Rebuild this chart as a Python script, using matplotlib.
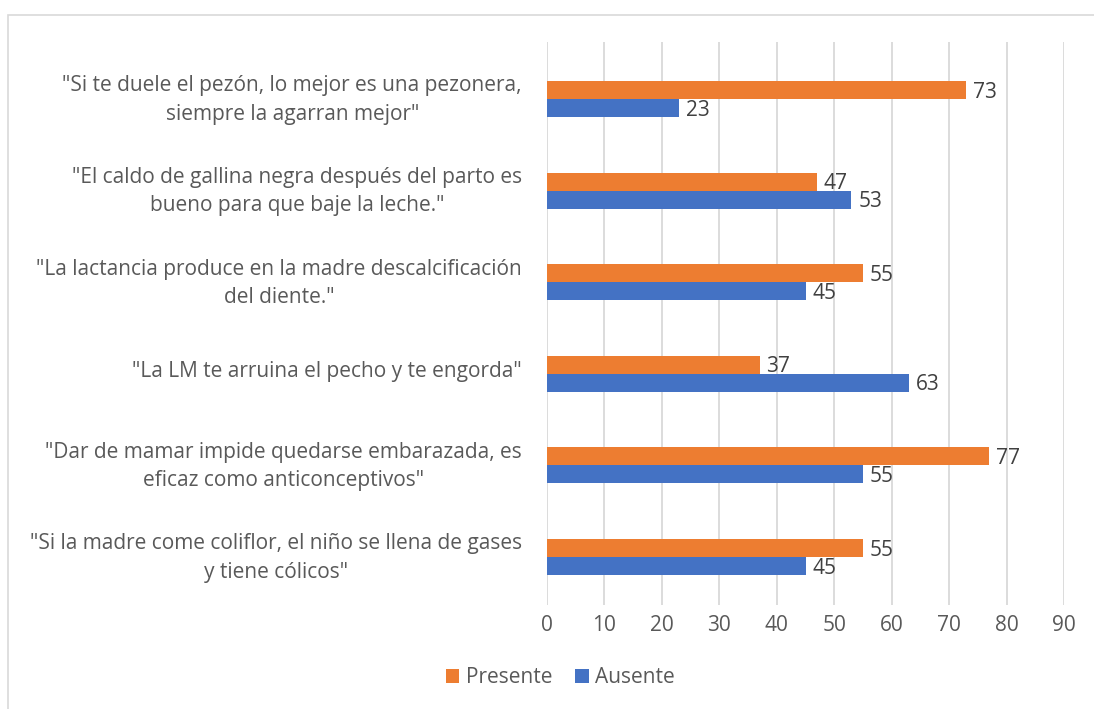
import matplotlib.pyplot as plt
import matplotlib.transforms as mtransforms
import numpy as np
from matplotlib.patches import Rectangle

plt.rcParams['font.family'] = ['Open Sans', 'DejaVu Sans']

categorias = [
    '"Si te duele el pezón, lo mejor es una pezonera,\nsiempre la agarran mejor"',
    '"El caldo de gallina negra después del parto es\nbueno para que baje la leche."',
    '"La lactancia produce en la madre descalcificación\ndel diente."',
    '"La LM te arruina el pecho y te engorda"',
    '"Dar de mamar impide quedarse embarazada, es\neficaz como anticonceptivos"',
    '"Si la madre come coliflor, el niño se llena de gases\ny tiene cólicos"',
]
presente = [73, 47, 55, 37, 77, 55]
ausente = [23, 53, 45, 63, 55, 45]

c_pres = '#ED7D31'
c_aus = '#4472C4'
gris = '#595959'
fs = 15

fig = plt.figure(figsize=(10.94, 7.09), dpi=100)
ax = fig.add_axes([0.5, 0.1467, 0.4726, 0.7941])

y = np.arange(len(categorias))[::-1]
h = 0.197
b1 = ax.barh(y + h / 2, presente, height=h, color=c_pres, label='Presente', zorder=3)
b2 = ax.barh(y - h / 2, ausente, height=h, color=c_aus, label='Ausente', zorder=3)

for bars in (b1, b2):
    for r in bars:
        ax.annotate(f'{r.get_width():.0f}', (r.get_width(), r.get_y() + r.get_height() / 2),
                    xytext=(5, -1.5), textcoords='offset points', va='center', ha='left',
                    fontsize=fs, color='#404040')

ax.set_xlim(0, 90)
ax.set_ylim(-0.524, 5.622)
ax.set_xticks(np.arange(0, 91, 10))
ax.set_yticks(y)
ax.set_yticklabels(categorias, ha='right', multialignment='center', linespacing=1.45)
ax.tick_params(axis='y', length=0, pad=18, labelsize=fs, labelcolor=gris)
ax.tick_params(axis='x', length=0, pad=7, labelsize=fs, labelcolor=gris)
# subir un poco las etiquetas de categoria
shift = mtransforms.ScaledTranslation(0, 5 / 100, fig.dpi_scale_trans)
for lab in ax.get_yticklabels():
    lab.set_transform(lab.get_transform() + shift)
ax.grid(axis='x', color='#d9d9d9', linewidth=1.3, zorder=0)
for s in ax.spines.values():
    s.set_visible(False)

fig.legend(loc='center', bbox_to_anchor=(0.512, 0.044), ncol=2, frameon=False,
           fontsize=fs, labelcolor=gris, handlelength=0.65, handleheight=0.65,
           handletextpad=0.3, columnspacing=1.1)

fig.patches.append(Rectangle((8 / 1094, -0.01), 1.0, 1 - 15 / 709 + 0.01,
                             transform=fig.transFigure, fill=False,
                             edgecolor='#d9d9d9', linewidth=1.2))

fig.savefig('out.png', dpi=100)
